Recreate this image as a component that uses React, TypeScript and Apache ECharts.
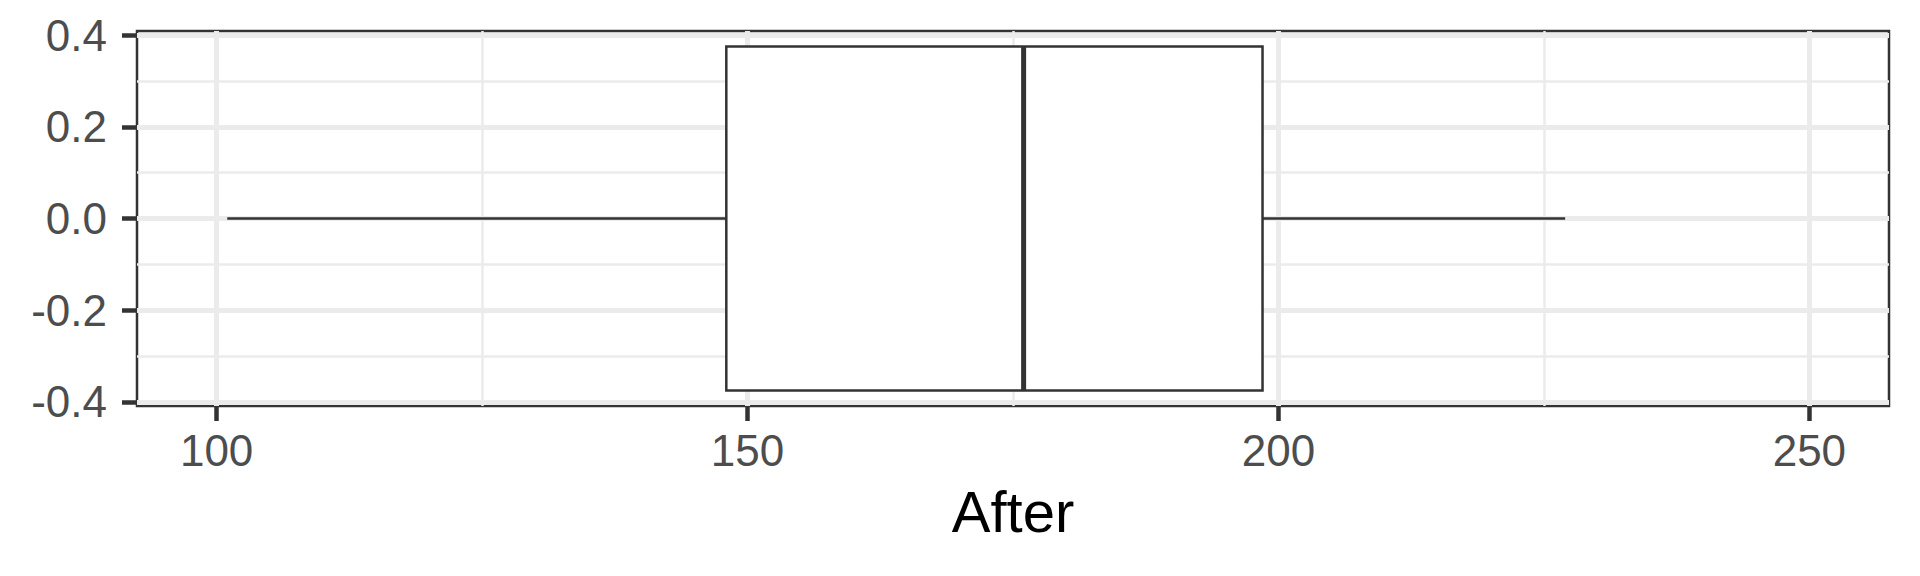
import React, { useEffect, useRef } from "react";
import * as echarts from "echarts";

// ---- data ----
const xTitle = "After";
// box statistics: lower whisker, Q1, median, Q3, upper whisker
const afterStats = [101, 148, 176, 198.5, 227];
const boxCenterY = 0;
const xMajorTicks = [100, 150, 200, 250];
const xMinorTicks = [125, 175, 225];
const yMajorTicks = [-0.4, -0.2, 0, 0.2, 0.4];
const yMinorTicks = [-0.3, -0.1, 0.1, 0.3];

const X_MIN = 92.5;
const X_MAX = 257.5;
const Y_LIM = 0.409;
const BOX_HALF = 0.375;

const FONT = "'Liberation Sans', Arial, Helvetica, sans-serif";
const GRID_COLOR = "#EBEBEB";
const INK = "#333333";

export default function App() {
  const ref = useRef<HTMLDivElement>(null);

  useEffect(() => {
    if (!ref.current) return;
    const chart = echarts.init(ref.current, undefined, { renderer: "svg" });

    const option: any = {
      animation: false,
      backgroundColor: "#ffffff",
      grid: {
        left: 137,
        top: 31,
        right: 31,
        bottom: 170,
        show: true,
        backgroundColor: "transparent",
        borderColor: INK,
        borderWidth: 2.5,
      },
      xAxis: [
        {
          type: "value",
          min: X_MIN,
          max: X_MAX,
          position: "bottom",
          name: xTitle,
          nameLocation: "middle",
          nameGap: 76,
          nameTextStyle: { color: "#000000", fontSize: 58, fontFamily: FONT },
          axisLine: { show: false, onZero: false },
          axisTick: {
            show: true,
            customValues: xMajorTicks,
            length: 15,
            lineStyle: { color: INK, width: 4.5 },
          },
          axisLabel: {
            customValues: xMajorTicks,
            color: "#4D4D4D",
            fontSize: 44,
            fontFamily: FONT,
            margin: 22,
          },
          splitLine: { show: true, lineStyle: { color: GRID_COLOR, width: 5 } },
        },
        {
          type: "value",
          min: X_MIN,
          max: X_MAX,
          position: "bottom",
          axisLine: { show: false, onZero: false },
          axisTick: { show: false, customValues: xMinorTicks },
          axisLabel: { show: false },
          splitLine: { show: true, lineStyle: { color: GRID_COLOR, width: 2.5 } },
        },
      ],
      yAxis: [
        {
          type: "value",
          min: -Y_LIM,
          max: Y_LIM,
          position: "left",
          axisLine: { show: false, onZero: false },
          axisTick: {
            show: true,
            customValues: yMajorTicks,
            length: 15,
            lineStyle: { color: INK, width: 4.5 },
          },
          axisLabel: {
            customValues: yMajorTicks,
            color: "#4D4D4D",
            fontSize: 44,
            fontFamily: FONT,
            margin: 30,
            formatter: (v: number) => v.toFixed(1),
          },
          splitLine: { show: true, lineStyle: { color: GRID_COLOR, width: 5 } },
        },
        {
          type: "value",
          min: -Y_LIM,
          max: Y_LIM,
          position: "left",
          axisLine: { show: false, onZero: false },
          axisTick: { show: false, customValues: yMinorTicks },
          axisLabel: { show: false },
          splitLine: { show: true, lineStyle: { color: GRID_COLOR, width: 2.5 } },
        },
      ],
      series: [
        {
          type: "custom",
          xAxisIndex: 0,
          yAxisIndex: 0,
          clip: false,
          z: 10,
          encode: { x: [0, 1, 2, 3, 4], y: 5 },
          data: [[...afterStats, boxCenterY]],
          renderItem: (params: any, api: any) => {
            const lo = api.value(0);
            const q1 = api.value(1);
            const med = api.value(2);
            const q3 = api.value(3);
            const hi = api.value(4);
            const cy = api.value(5);
            const pLo = api.coord([lo, cy]);
            const pQ1 = api.coord([q1, cy]);
            const pQ3 = api.coord([q3, cy]);
            const pHi = api.coord([hi, cy]);
            const yTop = api.coord([q1, cy + BOX_HALF])[1];
            const yBot = api.coord([q1, cy - BOX_HALF])[1];
            const xMed = api.coord([med, cy])[0];
            const stroke = INK;
            return {
              type: "group",
              children: [
                {
                  type: "line",
                  shape: { x1: pLo[0], y1: pLo[1], x2: pQ1[0], y2: pQ1[1] },
                  style: { stroke, lineWidth: 2.5 },
                },
                {
                  type: "line",
                  shape: { x1: pQ3[0], y1: pQ3[1], x2: pHi[0], y2: pHi[1] },
                  style: { stroke, lineWidth: 2.5 },
                },
                {
                  type: "rect",
                  shape: { x: pQ1[0], y: yTop, width: pQ3[0] - pQ1[0], height: yBot - yTop },
                  style: { fill: "#ffffff", stroke, lineWidth: 2.5 },
                },
                {
                  type: "line",
                  shape: { x1: xMed, y1: yTop, x2: xMed, y2: yBot },
                  style: { stroke, lineWidth: 5 },
                },
              ],
            };
          },
        },
      ],
    };

    chart.setOption(option);
    return () => chart.dispose();
  }, []);

  return (
    <div
      ref={ref}
      style={{ position: "fixed", left: 0, top: 0, width: 1920, height: 576, background: "#fff" }}
    />
  );
}
